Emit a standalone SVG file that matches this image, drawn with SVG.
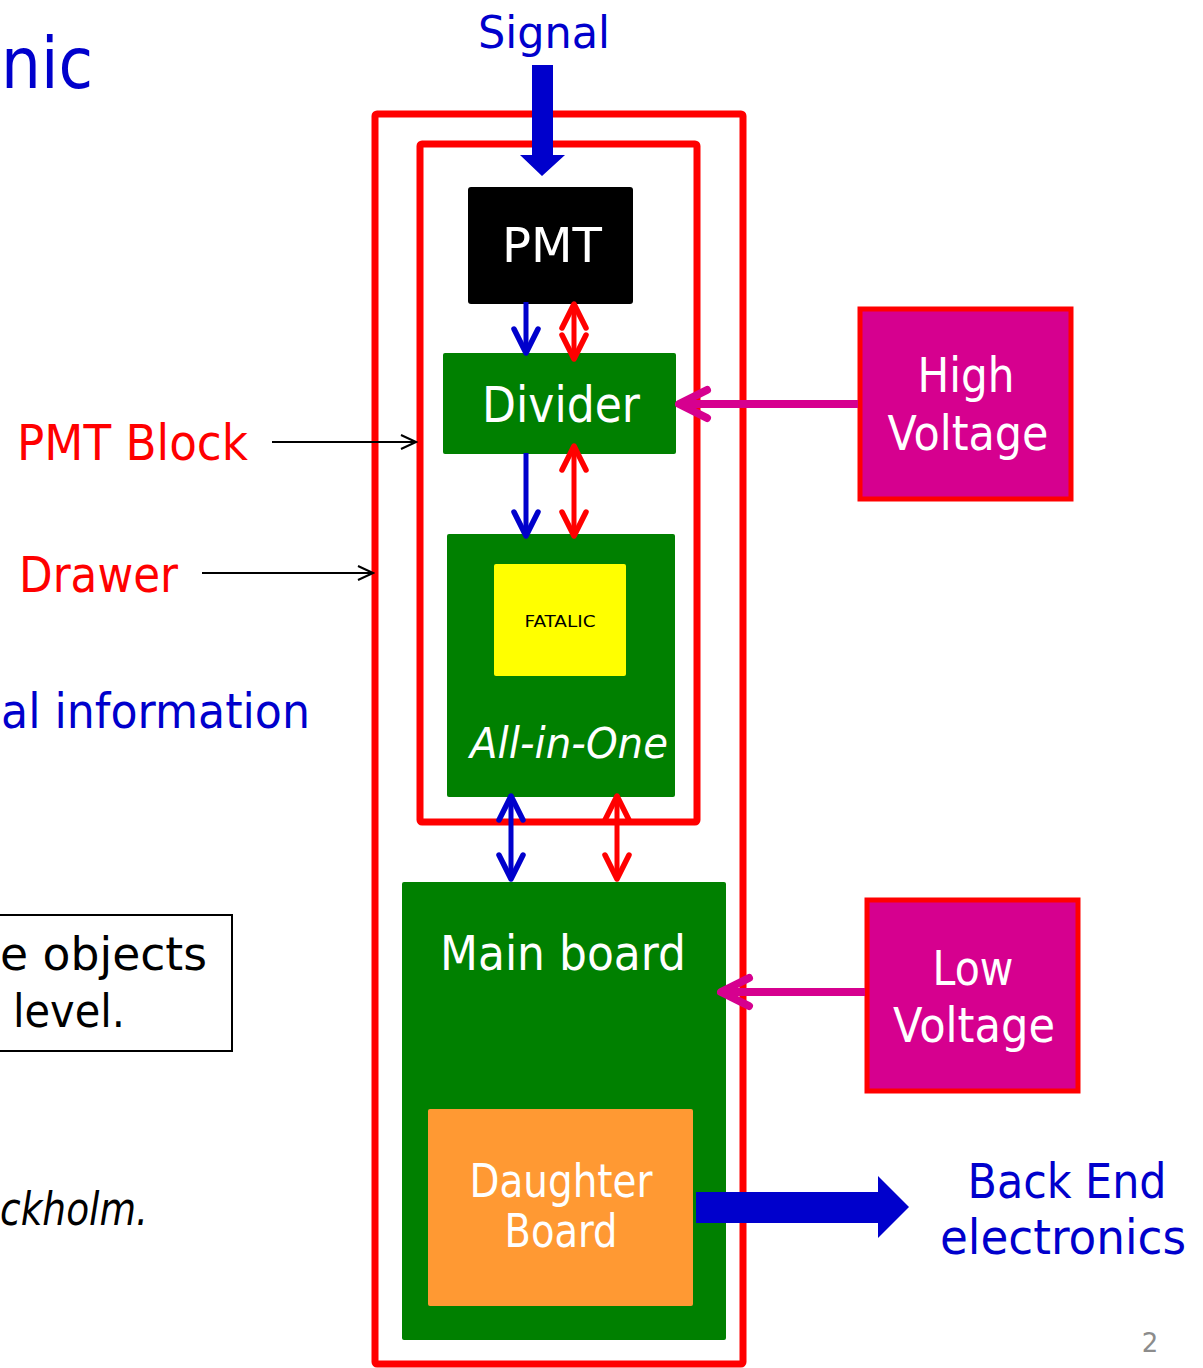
<svg xmlns="http://www.w3.org/2000/svg" width="1203" height="1368" viewBox="0 0 1203 1368">
<style>
text{font-family:"DejaVu Sans","Liberation Sans",sans-serif}
.w{fill:#fff}
.b{fill:#0000CC}
.r{fill:#FF0000}
.k{fill:#000}
.frame{fill:none;stroke:#FF0000;stroke-width:7;stroke-linejoin:round}
.blue{stroke:#0000CC;stroke-width:5;fill:none}
.red{stroke:#FF0000;stroke-width:5;fill:none}
.mag{stroke:#D6008F;stroke-width:8;fill:none}
.thin{stroke:#000;stroke-width:2;fill:none}
</style>
<defs>
<marker id="hb" markerUnits="userSpaceOnUse" viewBox="-30 -16 34 32" refX="0" refY="0" markerWidth="34" markerHeight="32" orient="auto-start-reverse"><path d="M-24,-12 L0,0 L-24,12" fill="none" stroke="#0000CC" stroke-width="5.5" stroke-linecap="round" stroke-linejoin="round"/></marker>
<marker id="hr" markerUnits="userSpaceOnUse" viewBox="-30 -16 34 32" refX="0" refY="0" markerWidth="34" markerHeight="32" orient="auto-start-reverse"><path d="M-24,-12 L0,0 L-24,12" fill="none" stroke="#FF0000" stroke-width="5.5" stroke-linecap="round" stroke-linejoin="round"/></marker>
<marker id="hm" markerUnits="userSpaceOnUse" viewBox="-36 -20 40 40" refX="0" refY="0" markerWidth="40" markerHeight="40" orient="auto-start-reverse"><path d="M-28,-14 L0,0 L-28,14" fill="none" stroke="#D6008F" stroke-width="8" stroke-linecap="round" stroke-linejoin="round"/></marker>
<marker id="hk" markerUnits="userSpaceOnUse" viewBox="-20 -10 22 20" refX="0" refY="0" markerWidth="22" markerHeight="20" orient="auto"><path d="M-15,-7 L0,0 L-15,7" fill="none" stroke="#000" stroke-width="2"/></marker>
</defs>
<rect width="1203" height="1368" fill="#fff"/>

<g id="side-text">
<text class="b" x="1" y="88" font-size="72" textLength="92" lengthAdjust="spacingAndGlyphs">nic</text>
<text class="r" x="17" y="460" font-size="50" textLength="231" lengthAdjust="spacingAndGlyphs">PMT Block</text>
<text class="r" x="19" y="592" font-size="50" textLength="159" lengthAdjust="spacingAndGlyphs">Drawer</text>
<text class="b" x="1" y="728" font-size="48" textLength="309" lengthAdjust="spacingAndGlyphs">al information</text>
<rect x="-2" y="915" width="234" height="136" fill="none" stroke="#000" stroke-width="2"/>
<text class="k" x="0" y="970" font-size="46" textLength="207" lengthAdjust="spacingAndGlyphs">e objects</text>
<text class="k" x="13" y="1027" font-size="46" textLength="112" lengthAdjust="spacingAndGlyphs">level.</text>
<text class="k" x="0" y="1225" font-size="46" font-style="italic" textLength="148" lengthAdjust="spacingAndGlyphs">ckholm.</text>
<text x="1150" y="1352" font-size="26" fill="#8C8C8C" text-anchor="middle">2</text>
</g>

<g id="drawer"><rect class="frame" x="375" y="114" width="368" height="1250" rx="2"/></g>
<g id="pmt-block"><rect class="frame" x="420" y="144" width="277" height="678" rx="2"/></g>

<g id="pmt">
<rect x="468" y="187" width="165" height="117" rx="3" fill="#000"/>
<text class="w" x="552" y="262" font-size="48" text-anchor="middle" textLength="100" lengthAdjust="spacingAndGlyphs">PMT</text>
</g>
<g id="divider">
<rect x="443" y="353" width="233" height="101" rx="2" fill="#008000"/>
<text class="w" x="561" y="422" font-size="50" text-anchor="middle" textLength="158" lengthAdjust="spacingAndGlyphs">Divider</text>
</g>
<g id="all-in-one">
<rect x="447" y="534" width="228" height="263" rx="2" fill="#008000"/>
<text class="w" x="569" y="758" font-size="42" font-style="italic" text-anchor="middle" textLength="198" lengthAdjust="spacingAndGlyphs">All-in-One</text>
</g>
<g id="fatalic">
<rect x="494" y="564" width="132" height="112" rx="2" fill="#FFFF00"/>
<text class="k" x="560" y="627" font-size="16" text-anchor="middle" textLength="71" lengthAdjust="spacingAndGlyphs">FATALIC</text>
</g>
<g id="main-board">
<rect x="402" y="882" width="324" height="458" rx="2" fill="#008000"/>
<text class="w" x="563" y="970" font-size="48" text-anchor="middle" textLength="246" lengthAdjust="spacingAndGlyphs">Main board</text>
</g>
<g id="daughter-board">
<rect x="428" y="1109" width="265" height="197" rx="2" fill="#FF9933"/>
<text class="w" x="561" y="1197" font-size="46" text-anchor="middle" textLength="183" lengthAdjust="spacingAndGlyphs">Daughter</text>
<text class="w" x="561" y="1247" font-size="46" text-anchor="middle" textLength="113" lengthAdjust="spacingAndGlyphs">Board</text>
</g>
<g id="high-voltage">
<rect x="860" y="309" width="211" height="190" fill="#D6008F" stroke="#FF0000" stroke-width="5"/>
<text class="w" x="966" y="392" font-size="48" text-anchor="middle" textLength="97" lengthAdjust="spacingAndGlyphs">High</text>
<text class="w" x="968" y="450" font-size="48" text-anchor="middle" textLength="161" lengthAdjust="spacingAndGlyphs">Voltage</text>
</g>
<g id="low-voltage">
<rect x="867" y="900" width="211" height="191" fill="#D6008F" stroke="#FF0000" stroke-width="5"/>
<text class="w" x="973" y="985" font-size="48" text-anchor="middle" textLength="81" lengthAdjust="spacingAndGlyphs">Low</text>
<text class="w" x="974" y="1042" font-size="48" text-anchor="middle" textLength="162" lengthAdjust="spacingAndGlyphs">Voltage</text>
</g>
<g id="signal-label">
<text class="b" x="544" y="48" font-size="44" text-anchor="middle" textLength="132" lengthAdjust="spacingAndGlyphs">Signal</text>
</g>
<g id="back-end">
<text class="b" x="1067" y="1198" font-size="48" text-anchor="middle" textLength="199" lengthAdjust="spacingAndGlyphs">Back End</text>
<text class="b" x="1063" y="1254" font-size="48" text-anchor="middle" textLength="246" lengthAdjust="spacingAndGlyphs">electronics</text>
</g>

<g id="connectors">
<polygon points="532,65 553,65 553,155 565,155 542,176 520,155 532,155" fill="#0000CC"/>
<line class="blue" x1="526" y1="302" x2="526" y2="353" marker-end="url(#hb)"/>
<line class="red" x1="574" y1="304" x2="574" y2="359" marker-start="url(#hr)" marker-end="url(#hr)"/>
<line class="blue" x1="526" y1="453" x2="526" y2="536" marker-end="url(#hb)"/>
<line class="red" x1="574" y1="446" x2="574" y2="536" marker-start="url(#hr)" marker-end="url(#hr)"/>
<line class="blue" x1="511" y1="796" x2="511" y2="879" marker-start="url(#hb)" marker-end="url(#hb)"/>
<line class="red" x1="617" y1="796" x2="617" y2="879" marker-start="url(#hr)" marker-end="url(#hr)"/>
<line class="mag" x1="858" y1="404" x2="679" y2="404" marker-end="url(#hm)"/>
<line class="mag" x1="865" y1="992" x2="721" y2="992" marker-end="url(#hm)"/>
<polygon points="696,1192 878,1192 878,1176 909,1207 878,1238 878,1223 696,1223" fill="#0000CC"/>
<line class="thin" x1="272" y1="442" x2="416" y2="442" marker-end="url(#hk)"/>
<line class="thin" x1="202" y1="573" x2="373" y2="573" marker-end="url(#hk)"/>
</g>
</svg>
